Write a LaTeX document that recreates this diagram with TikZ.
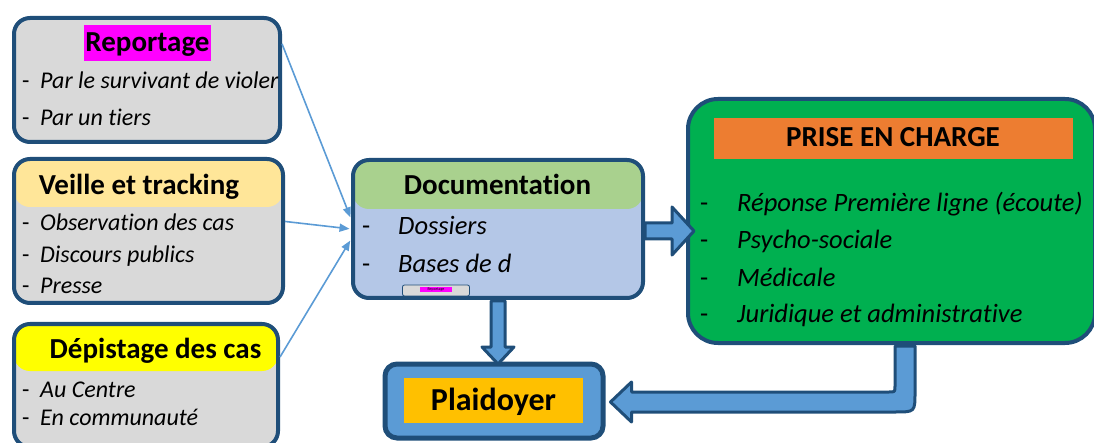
\documentclass[tikz,border=0pt]{standalone}
\usepackage{fontspec}
\setmainfont{Carlito}[Ligatures=NoCommon]
\usetikzlibrary{arrows.meta,calc}
\definecolor{bdr}{HTML}{1F4E79}
\definecolor{grayf}{HTML}{D9D9D9}
\definecolor{magf}{HTML}{FF00FF}
\definecolor{orlight}{HTML}{FFE699}
\definecolor{yelf}{HTML}{FFFF00}
\definecolor{docf}{HTML}{B4C7E7}
\definecolor{docgreen}{HTML}{A9D18E}
\definecolor{prgreen}{HTML}{00B050}
\definecolor{prorange}{HTML}{ED7D31}
\definecolor{ablue}{HTML}{5B9BD5}
\definecolor{goldf}{HTML}{FFC000}
\newcommand{\ditem}[5]{%
  \node[dsh] (#1d) at (#2,#4) {-};
  \node[itm] (#1) at (#3,#4) {#5};}
\begin{document}
\begin{tikzpicture}[x=1pt,y=-1pt,
  box/.style={draw=bdr, line width=4pt, rounded corners=16pt, inner sep=0pt},
  ttl/.style={font=\fontsize{29}{34}\selectfont\bfseries, inner sep=0pt, anchor=base},
  itm/.style={font=\fontsize{24}{28}\selectfont\itshape, inner sep=0pt, anchor=base west},
  dsh/.style={font=\fontsize{24}{28}\selectfont, inner sep=0pt, anchor=base west},
  big/.style={font=\fontsize{26.5}{30}\selectfont\itshape},
  bigd/.style={font=\fontsize{26.5}{30}\selectfont},
  thinarrow/.style={draw=ablue, line width=1.6pt, shorten >=1.5pt, -{Triangle[length=10pt,width=8pt]}},
  blk/.style={draw=bdr, fill=ablue, line width=3pt, line join=round}]
\useasboundingbox (0,0) rectangle (1094,443);

% Reportage
\node[box, fill=grayf, minimum width=266pt, minimum height=124pt] (rep) at (147,80) {};
\node[ttl, fill=magf, inner xsep=1pt, text height=27pt, text depth=9pt] (reptitle) at (147.5,52) {Reportage};
\ditem{r1}{22}{40}{89}{Par le survivant de violer}
\ditem{r2}{22}{40}{126}{Par un tiers}

% Veille et tracking
\node[box, fill=grayf, minimum width=269pt, minimum height=144pt,
  path picture={\fill[orlight] (path picture bounding box.north west) rectangle ($(path picture bounding box.north east)+(0,48)$);}] (veil) at (148.5,231) {};
\node[ttl] (veiltitle) at (139,195) {Veille et tracking};
\ditem{v1}{22}{40}{231}{Observation des cas}
\ditem{v2}{22}{40}{263}{Discours publics}
\ditem{v3}{22}{40}{294}{Presse}

% Depistage
\node[box, fill=grayf, minimum width=264pt, minimum height=123pt,
  path picture={\fill[yelf] (path picture bounding box.north west) rectangle ($(path picture bounding box.north east)+(0,47)$);}] (dep) at (146,385.5) {};
\node[ttl] (deptitle) at (155.5,358) {Dépistage des cas};
\ditem{d1}{22}{40}{397}{Au Centre}
\ditem{d2}{22}{40}{425}{En communauté}

% Documentation
\node[box, fill=docf, minimum width=290pt, minimum height=138pt,
  path picture={\fill[docgreen] (path picture bounding box.north west) rectangle ($(path picture bounding box.north east)+(0,49)$);}] (doc) at (498,229) {};
\node[ttl] (doctitle) at (497.5,195) {Documentation};
\begin{scope}[itm/.append style={big}, dsh/.append style={bigd}]
\ditem{o1}{362}{398}{235}{Dossiers}
\ditem{o2}{362}{398}{273}{Bases de d}
\end{scope}
\node[draw=bdr, line width=0.8pt, fill=grayf, rounded corners=2pt, minimum width=67pt, minimum height=11pt, inner sep=0pt] (mini) at (436,290.5) {};
\node[fill=magf, inner sep=0pt, minimum width=32pt, minimum height=5pt, font=\fontsize{4}{4}\selectfont] (minititle) at (436,289.5) {Reportage};

% Prise en charge
\node[box, fill=prgreen, rounded corners=30pt, minimum width=407pt, minimum height=244pt] (prise) at (891.5,221) {};
\node[fill=prorange, inner sep=0pt, minimum width=359pt, minimum height=41pt] (prhead) at (893.5,138.5) {};
\node[ttl] (prtitle) at (893,147) {PRISE EN CHARGE};
\begin{scope}[itm/.append style={big}, dsh/.append style={bigd}]
\ditem{p1}{700}{737}{212}{Réponse Première ligne (écoute)}
\ditem{p2}{700}{737}{249}{Psycho-sociale}
\ditem{p3}{700}{737}{287}{Médicale}
\ditem{p4}{700}{737}{323}{Juridique et administrative}
\end{scope}

% Plaidoyer
\node[draw=bdr, line width=5pt, fill=ablue, rounded corners=12pt, minimum width=218pt, minimum height=74pt, inner sep=0pt] (plaid) at (494,401) {};
\node[fill=goldf, inner sep=0pt, minimum width=179pt, minimum height=45pt] (plaidin) at (493.5,400.5) {};
\node[ttl, font=\fontsize{32}{36}\selectfont\bfseries] (plaidtitle) at (493.5,410) {Plaidoyer};

% thin arrows
\draw[thinarrow] (rep.15) -- (doc.176);
\draw[thinarrow] (veil.4) -- (doc.180);
\draw[thinarrow] (dep.12) -- (doc.184);

% block arrow doc -> prise
\coordinate (a1) at ($(doc.east)+(0,2)$);
\draw[blk] ($(a1)+(0,-8)$) -- ($(a1)+(27,-8)$) -- ($(a1)+(27,-24)$) -- ($(a1)+(49,0)$)
  -- ($(a1)+(27,24)$) -- ($(a1)+(27,8)$) -- ($(a1)+(0,8)$) -- cycle;

% block arrow doc -> plaidoyer
\coordinate (b1) at ($(doc.south)+(0,1)$);
\draw[blk] ($(b1)+(-7,0)$) -- ($(b1)+(-7,46)$) -- ($(b1)+(-16,46)$) -- ($(b1)+(0,63)$)
  -- ($(b1)+(16,46)$) -- ($(b1)+(7,46)$) -- ($(b1)+(7,0)$) -- cycle;

% bent block arrow prise -> plaidoyer
\coordinate (c0) at ($(prise.south)+(13.5,1)$);
\coordinate (ct) at ($(plaid.east)+(5,1)$);
\draw[blk] ($(c0)+(-10,0)$) -- ($(c0|-ct)+(-10,-16)$)
  .. controls ($(c0|-ct)+(-10,-10)$) .. ($(c0|-ct)+(-16,-10)$)
  -- ($(ct)+(21,-10)$) -- ($(ct)+(21,-20)$) -- (ct) -- ($(ct)+(21,20)$) -- ($(ct)+(21,10)$)
  -- ($(c0|-ct)+(-10,10)$)
  .. controls ($(c0|-ct)+(10,10)$) .. ($(c0|-ct)+(10,-10)$)
  -- ($(c0)+(10,0)$) -- cycle;
\end{tikzpicture}
\end{document}
